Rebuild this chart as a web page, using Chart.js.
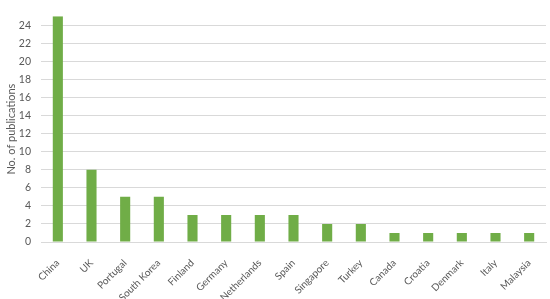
<!DOCTYPE html>
<html>
<head>
<meta charset="utf-8">
<script src="https://cdn.jsdelivr.net/npm/chart.js@4"></script>
<style>
  html, body { margin: 0; padding: 0; background: #fff; }
  #wrap { width: 550px; height: 299px; position: relative; }
</style>
</head>
<body>
<div id="wrap"><canvas id="chart"></canvas></div>
<script>
// ---- Data ----
const countries = ['China', 'UK', 'Portugal', 'South Korea', 'Finland', 'Germany', 'Netherlands',
  'Spain', 'Singapore', 'Turkey', 'Canada', 'Croatia', 'Denmark', 'Italy', 'Malaysia'];
const publications = [25, 8, 5, 5, 3, 3, 3, 3, 2, 2, 1, 1, 1, 1, 1];
const yTicks = [0, 2, 4, 6, 8, 10, 12, 14, 16, 18, 20, 22, 24];

const textColor = '#595959';
const gridColor = '#d9d9d9';
const barColor = '#70ad47';
const font = "Lato, 'Liberation Sans', sans-serif";

new Chart(document.getElementById('chart'), {
  type: 'bar',
  data: {
    labels: countries,
    datasets: [{
      data: publications,
      backgroundColor: barColor,
      borderWidth: 0,
      barPercentage: 0.6,
      categoryPercentage: 0.5,
    }]
  },
  options: {
    responsive: true,
    maintainAspectRatio: false,
    animation: false,
    layout: { padding: { top: 5, right: 4, left: 0, bottom: 0 } },
    plugins: {
      legend: { display: false },
      tooltip: { enabled: false }
    },
    scales: {
      x: {
        // fixed axis height so the plot bottom sits where the reference's does
        afterFit: scale => { scale.height = 57; },
        grid: { display: false },
        border: { color: gridColor },
        ticks: {
          color: textColor,
          font: { family: font, size: 10 },
          minRotation: 45,
          maxRotation: 45,
          autoSkip: false,
          padding: 7,
        }
      },
      y: {
        min: 0,
        max: 25,
        afterFit: scale => { scale.width = 41; },
        afterBuildTicks: axis => {
          axis.ticks = yTicks.map(v => ({ value: v }));
        },
        grid: { color: gridColor, drawTicks: false },
        border: { display: false },
        ticks: {
          color: textColor,
          font: { family: font, size: 10.5 },
          padding: 10,
        },
        title: {
          display: true,
          text: 'No. of publications',
          color: textColor,
          font: { family: font, size: 11 },
          padding: { top: 5, bottom: 2 }
        }
      }
    }
  }
});
</script>
</body>
</html>
